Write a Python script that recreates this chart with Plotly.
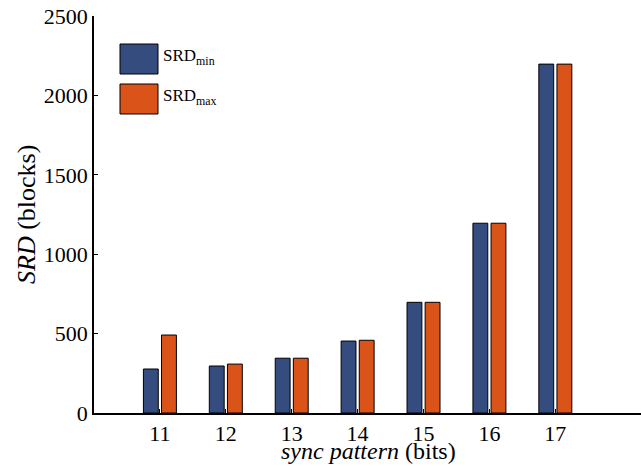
import plotly.graph_objects as go

categories = [11, 12, 13, 14, 15, 16, 17]
srd_min = [277, 296, 345, 453, 697, 1195, 2197]
srd_max = [491, 308, 345, 458, 697, 1195, 2197]
y_ticks = [0, 500, 1000, 1500, 2000, 2500]

blue = "#344C7E"
orange = "#DA5319"
font = "Liberation Serif, Times New Roman, serif"

fig = go.Figure()
fig.add_trace(go.Bar(x=categories, y=srd_min, name="SRD<sub>min</sub>", marker=dict(color=blue, line=dict(color="black", width=1)), showlegend=False))
fig.add_trace(go.Bar(x=categories, y=srd_max, name="SRD<sub>max</sub>", marker=dict(color=orange, line=dict(color="black", width=1)), showlegend=False))

# manual legend with large swatches
W, H = 641 - 94, 413 - 16
def px(xp): return (xp - 94) / W
def py(yp): return (413 - yp) / H
for (y0, y1, col, label) in [(44, 74, blue, "SRD<sub>min</sub>"), (84, 114, orange, "SRD<sub>max</sub>")]:
    fig.add_shape(type="rect", xref="paper", yref="paper", x0=px(120), x1=px(158), y0=py(y1), y1=py(y0),
                  fillcolor=col, line=dict(color="black", width=1))
    fig.add_annotation(xref="paper", yref="paper", x=px(161), y=py((y0 + y1) / 2 - 2), text=label,
                       showarrow=False, xanchor="left", yanchor="middle", font=dict(family=font, size=17, color="black"))

# axis titles
fig.add_annotation(xref="paper", yref="paper", x=px(368), y=py(451), text="<i>sync pattern</i> (bits)",
                   showarrow=False, xanchor="center", yanchor="middle", font=dict(family=font, size=24, color="black"))
fig.add_annotation(xref="paper", yref="paper", x=px(27), y=py(215), text="<i>SRD</i> (blocks)", textangle=-90,
                   showarrow=False, xanchor="center", yanchor="middle", font=dict(family=font, size=26, color="black"))

fig.update_layout(
    width=641, height=466,
    margin=dict(l=94, r=0, t=16, b=53),
    paper_bgcolor="white", plot_bgcolor="white",
    barmode="group", bargap=0.45, bargroupgap=0.18,
    font=dict(family=font, size=22, color="black"),
)
fig.update_xaxes(range=[10, 18.3], tickvals=categories, ticktext=[str(c) for c in categories],
                 showline=True, linecolor="black", linewidth=2, ticks="inside", ticklen=4, tickcolor="black",
                 showgrid=False, zeroline=False, automargin=False)
fig.update_yaxes(range=[0, 2500], tickvals=y_ticks, showline=True, linecolor="black", linewidth=1.5,
                 ticks="inside", ticklen=4, tickcolor="black", showgrid=False, zeroline=False, automargin=False)

fig.write_html("out.html", config={"displayModeBar": False},
               post_script="document.body.style.margin='0';document.body.style.overflow='hidden';")
